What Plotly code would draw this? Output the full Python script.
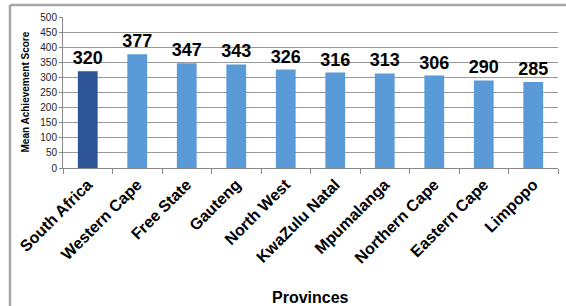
import plotly.graph_objects as go

provinces = ["South Africa", "Western Cape", "Free State", "Gauteng", "North West",
             "KwaZulu Natal", "Mpumalanga", "Northern Cape", "Eastern Cape", "Limpopo"]
scores = [320, 377, 347, 343, 326, 316, 313, 306, 290, 285]
y_ticks = [0, 50, 100, 150, 200, 250, 300, 350, 400, 450, 500]

colors = ["#2D5597"] + ["#5A9AD6"] * (len(provinces) - 1)
FONT = "Arial, Liberation Sans, sans-serif"

W, H = 566, 306
L, R, T, B = 63, 8, 17, 138
pw, ph = W - L - R, H - T - B

fig = go.Figure(go.Bar(
    x=provinces, y=scores,
    marker=dict(color=colors, line=dict(width=0)),
    text=[str(s) for s in scores], textposition="outside",
    textfont=dict(family=FONT, size=18, color="#000000", weight="bold"),
    constraintext="none",
    cliponaxis=False,
))

fig.update_layout(
    width=W, height=H,
    margin=dict(l=L, r=R, t=T, b=B, autoexpand=False),
    paper_bgcolor="white", plot_bgcolor="white",
    bargap=0.6, showlegend=False,
    font=dict(family=FONT),
    xaxis=dict(
        tickangle=-45,
        tickfont=dict(family=FONT, size=16, color="#000000", weight="bold"),
        showline=True, linecolor="#888888", linewidth=1,
        ticks="outside", ticklen=5, tickcolor="#888888",
        tickson="boundaries", showgrid=False, automargin=False,
    ),
    yaxis=dict(
        range=[0, 500], tickvals=y_ticks,
        tickfont=dict(family=FONT, size=10, color="#222222"),
        showgrid=True, gridcolor="#999999", gridwidth=1,
        showline=True, linecolor="#888888", linewidth=1,
        ticks="outside", ticklen=3, tickcolor="#888888",
        zeroline=False, automargin=False,
    ),
    annotations=[
        dict(text="Mean Achievement Score", xref="paper", yref="paper",
             x=(25 - L) / pw, y=0.5, xanchor="center", yanchor="middle",
             textangle=-90, showarrow=False,
             font=dict(family=FONT, size=10, color="#000000", weight="bold")),
        dict(text="Provinces", xref="paper", yref="paper",
             x=0.5, y=(T + ph - 297) / ph, xanchor="center", yanchor="middle",
             showarrow=False,
             font=dict(family=FONT, size=16, color="#000000", weight="bold")),
    ],
    shapes=[
        dict(type="line", xref="paper", yref="paper",
             x0=(10 - L) / pw, x1=(570 - L) / pw,
             y0=1 + (T - 5) / ph, y1=1 + (T - 5) / ph,
             line=dict(color="#A6A6A6", width=2.5)),
        dict(type="line", xref="paper", yref="paper",
             x0=(10 - L) / pw, x1=(10 - L) / pw,
             y0=1 + (T - 5) / ph, y1=(T + ph - 310) / ph,
             line=dict(color="#A6A6A6", width=2.5)),
    ],
)

fig.write_html("out.html", config={"displayModeBar": False},
               post_script="document.body.style.margin='0';document.body.style.overflow='hidden';")
